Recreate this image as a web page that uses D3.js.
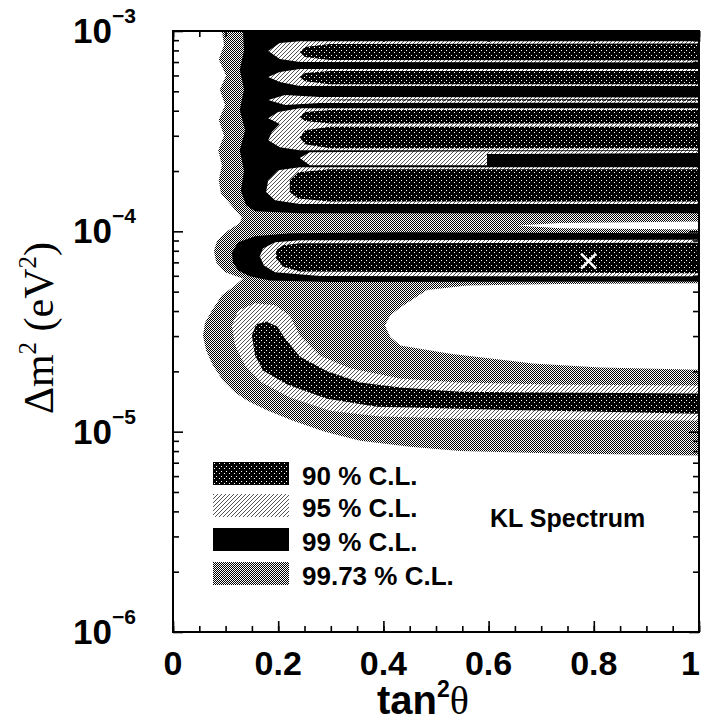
<!DOCTYPE html>
<html>
<head>
<meta charset="utf-8">
<script src="https://cdn.jsdelivr.net/npm/d3@7"></script>
<style>
	body { margin: 0; background: #fff; overflow: hidden; }
	svg { display: block; }
	.ticks line { stroke: #000; stroke-width: 1.6; }
	.ticks path { display: none; }
</style>
</head>
<body>
<div id="chart"></div>
<script>

var xTickValues = [0, 0.2, 0.4, 0.6, 0.8, 1];
var xTickLabels = ["0", "0.2", "0.4", "0.6", "0.8", "1"];
var yTickValues = [1e-6, 1e-5, 1e-4, 1e-3];
var yTickExponents = ["\u22126", "\u22125", "\u22124", "\u22123"];
var legendLabels = ["90 % C.L.", "95 % C.L.", "99 % C.L.", "99.73 % C.L."];
var legendFills = ["p90", "p95", "p99", "p9973"];
var bestFit = [0.79, 7.1e-5];

// allowed regions, rings of [tan^2 theta, dm^2 (eV^2)]
var cl9973 = [
	[[0.093,1.0e-3],[0.097,8.51e-4],[0.087,7.2e-4],[0.101,6.0e-4],[0.089,5.1e-4],[0.099,4.27e-4],[0.087,3.6e-4],[0.097,3.0e-4],
	 [0.086,2.54e-4],[0.093,2.14e-4],[0.087,1.80e-4],[0.091,1.55e-4],[0.114,1.32e-4],[0.131,1.17e-4],[0.127,1.10e-4],[0.105,1.01e-4],
	 [0.084,9.0e-5],[0.078,8.0e-5],[0.082,7.0e-5],[0.099,6.24e-5],[0.133,5.82e-5],[0.118,5.37e-5],[0.093,4.79e-5],[0.074,4.03e-5],
	 [0.061,3.51e-5],[0.057,3.02e-5],[0.063,2.54e-5],[0.076,2.14e-5],[0.095,1.80e-5],[0.118,1.57e-5],[0.141,1.43e-5],[0.181,1.27e-5],
	 [0.228,1.135e-5],[0.289,1.0e-5],[0.356,9.0e-6],[0.451,8.4e-6],[0.546,8.0e-6],[0.717,7.8e-6],[1.0,7.6e-6],[1.0,1.0e-3]],
	[[1.0,5.50e-5],[0.736,5.46e-5],[0.559,5.37e-5],[0.483,5.09e-5],[0.432,4.17e-5],[0.413,3.80e-5],[0.403,3.39e-5],[0.413,2.98e-5],
	 [0.432,2.69e-5],[0.527,2.45e-5],[0.684,2.19e-5],[0.812,2.09e-5],[1.0,2.04e-5]],
	[[0.654,1.07e-4],[0.736,1.10e-4],[1.0,1.12e-4],[1.0,1.02e-4],[0.736,1.035e-4]]
];

var cl99 = [
	[[0.133,1.0e-3],[1.0,1.0e-3],[1.0,1.23e-4],[0.241,1.23e-4],[0.156,1.26e-4],[0.139,1.35e-4],[0.129,1.6e-4],[0.135,2.0e-4],
	 [0.127,2.54e-4],[0.137,3.2e-4],[0.127,4.03e-4],[0.135,5.1e-4],[0.127,6.4e-4],[0.135,8.0e-4]],
	[[1.0,9.77e-5],[0.432,9.89e-5],[0.222,9.77e-5],[0.156,9.44e-5],[0.124,8.81e-5],[0.112,7.85e-5],[0.114,7.0e-5],[0.124,6.38e-5],
	 [0.146,5.96e-5],[0.184,5.69e-5],[0.298,5.59e-5],[1.0,5.62e-5]]
];

var cl95 = [
	[[1.0,8.9e-4],[0.241,8.9e-4],[0.203,8.7e-4],[0.181,7.94e-4],[0.203,7.24e-4],[0.241,7.0e-4],[1.0,6.96e-4]],
	[[1.0,6.46e-4],[0.241,6.46e-4],[0.203,6.24e-4],[0.181,5.89e-4],[0.203,5.56e-4],[0.241,5.31e-4],[1.0,5.31e-4]],
	[[1.0,4.65e-4],[0.279,4.68e-4],[0.213,4.79e-4],[0.181,4.52e-4],[0.213,4.27e-4],[0.279,4.37e-4],[1.0,4.39e-4]],
	[[1.0,4.12e-4],[0.241,4.12e-4],[0.2,3.94e-4],[0.181,3.67e-4],[0.203,3.43e-4],[0.188,3.13e-4],[0.181,2.85e-4],[0.203,2.63e-4],
	 [0.241,2.54e-4],[1.0,2.54e-4]],
	[[0.241,2.32e-4],[0.26,2.48e-4],[0.597,2.51e-4],[1.0,2.52e-4],[1.0,2.46e-4],[0.597,2.43e-4],[0.597,2.14e-4],[0.26,2.14e-4]],
	[[1.0,2.09e-4],[0.241,2.09e-4],[0.2,2.02e-4],[0.181,1.8e-4],[0.177,1.57e-4],[0.194,1.43e-4],[0.241,1.37e-4],[1.0,1.37e-4]],
	[[1.0,9.07e-5],[0.241,9.02e-5],[0.194,8.81e-5],[0.171,8.22e-5],[0.165,7.5e-5],[0.173,6.76e-5],[0.194,6.24e-5],[0.279,5.99e-5],
	 [1.0,5.96e-5]],
	[[1.0,1.70e-5],[0.717,1.72e-5],[0.546,1.76e-5],[0.432,1.84e-5],[0.336,2.07e-5],[0.279,2.40e-5],[0.241,3.02e-5],[0.222,3.80e-5],
	 [0.194,4.27e-5],[0.156,4.37e-5],[0.124,4.03e-5],[0.112,3.39e-5],[0.118,2.69e-5],[0.137,2.14e-5],[0.169,1.76e-5],[0.222,1.48e-5],
	 [0.298,1.27e-5],[0.394,1.19e-5],[0.546,1.16e-5],[0.717,1.15e-5],[1.0,1.135e-5]]
];

var cl90 = [
	[[1.0,8.66e-4],[0.298,8.6e-4],[0.251,8.32e-4],[0.241,7.85e-4],[0.251,7.41e-4],[0.298,7.16e-4],[1.0,7.12e-4]],
	[[1.0,6.31e-4],[0.298,6.31e-4],[0.251,6.17e-4],[0.241,5.89e-4],[0.251,5.62e-4],[0.298,5.43e-4],[1.0,5.43e-4]],
	[[1.0,4.57e-4],[0.317,4.55e-4],[0.279,4.52e-4],[0.317,4.5e-4],[1.0,4.48e-4]],
	[[1.0,4.03e-4],[0.298,4.03e-4],[0.251,3.94e-4],[0.241,3.72e-4],[0.251,3.55e-4],[0.298,3.45e-4],[1.0,3.45e-4]],
	[[1.0,3.33e-4],[0.298,3.33e-4],[0.251,3.2e-4],[0.241,2.95e-4],[0.251,2.72e-4],[0.298,2.6e-4],[1.0,2.6e-4]],
	[[1.0,2.04e-4],[0.298,2.04e-4],[0.238,1.97e-4],[0.222,1.8e-4],[0.222,1.57e-4],[0.238,1.46e-4],[0.298,1.41e-4],[1.0,1.41e-4]],
	[[1.0,8.76e-5],[0.241,8.71e-5],[0.209,8.51e-5],[0.196,8.04e-5],[0.196,7.33e-5],[0.209,6.68e-5],[0.241,6.31e-5],[1.0,6.17e-5]],
	[[1.0,1.55e-5],[0.717,1.57e-5],[0.546,1.58e-5],[0.432,1.66e-5],[0.356,1.76e-5],[0.293,2.0e-5],[0.241,2.37e-5],[0.213,2.92e-5],
	 [0.198,3.35e-5],[0.177,3.55e-5],[0.158,3.43e-5],[0.150,3.02e-5],[0.156,2.40e-5],[0.171,2.02e-5],[0.217,1.72e-5],[0.293,1.46e-5],
	 [0.388,1.33e-5],[0.546,1.30e-5],[0.717,1.27e-5],[1.0,1.23e-5]]
];


var W = 702, H = 726,
	margins = {top: 31, right: 3, bottom: 94, left: 173},
	width = W - margins.left - margins.right,
	height = H - margins.top - margins.bottom;

var sans = "'Liberation Sans', Arial, Helvetica, sans-serif",
	serif = "'Liberation Serif', 'Times New Roman', serif";

var x = d3.scaleLinear().domain([0, 1]).range([0, width]);
var y = d3.scaleLog().domain([1e-6, 1e-3]).range([height, 0]);

var svg = d3.select("#chart")
	.append("svg")
		.attr("width", W)
		.attr("height", H);

var defs = svg.append("defs");

function addPattern(id, size, bg, fg, pixels) {
	var p = defs.append("pattern")
		.attr("id", id)
		.attr("width", size).attr("height", size)
		.attr("patternUnits", "userSpaceOnUse");
	p.append("rect").attr("width", size).attr("height", size).attr("fill", bg);
	pixels.forEach(function(px) {
		p.append("rect").attr("x", px[0]).attr("y", px[1]).attr("width", 1).attr("height", 1)
			.attr("fill", fg).attr("shape-rendering", "crispEdges");
	});
}

addPattern("p90", 5, "#000", "#fff", [[1, 1], [3, 4]]);
addPattern("p95", 4, "#fff", "#555", [[0, 0], [2, 2], [3, 1], [1, 3]]);
addPattern("p99", 2, "#000", "#000", []);
addPattern("p9973", 2, "#fff", "#000", [[0, 0], [1, 1]]);

defs.append("clipPath").attr("id", "plotclip")
	.append("rect").attr("width", width).attr("height", height);

var g = svg.append("g")
	.attr("transform", "translate(" + margins.left + "," + margins.top + ")");

var line = d3.line()
	.x(function(d) { return x(d[0]); })
	.y(function(d) { return y(d[1]); });

function ringsPath(rings) {
	return rings.map(function(r) { return line(r) + "Z"; }).join("");
}

var plot = g.append("g").attr("clip-path", "url(#plotclip)");

plot.append("path").attr("d", ringsPath(cl9973)).attr("fill", "url(#p9973)").attr("fill-rule", "evenodd");

[[cl99, "p99"], [cl95, "p95"], [cl90, "p90"]].forEach(function(level) {
	plot.append("g")
		.selectAll("path")
		.data(level[0])
		.enter().append("path")
			.attr("d", function(d) { return line(d) + "Z"; })
			.attr("fill", "url(#" + level[1] + ")");
});

// best fit marker
var bx = x(bestFit[0]), by = y(bestFit[1]), s = 7.5;
plot.append("path")
	.attr("d", "M" + (bx - s) + "," + (by - s) + "L" + (bx + s) + "," + (by + s) +
		"M" + (bx - s) + "," + (by + s) + "L" + (bx + s) + "," + (by - s))
	.attr("stroke", "#fff").attr("stroke-width", 2.5);


// ticks on all four sides, pointing inward
var yMinor = [];
[1e-6, 1e-5, 1e-4].forEach(function(dec) {
	for(var k = 2; k <= 9; k++) { yMinor.push(k * dec); }
});
var xMinor = d3.range(0, 1.0001, 0.05);

g.append("g").attr("class", "ticks").call(d3.axisLeft(y).tickValues(yTickValues).tickSize(-10).tickFormat(""));
g.append("g").attr("class", "ticks").call(d3.axisLeft(y).tickValues(yMinor).tickSize(-6).tickFormat(""));
g.append("g").attr("class", "ticks").attr("transform", "translate(" + width + ",0)")
	.call(d3.axisRight(y).tickValues(yTickValues).tickSize(-10).tickFormat(""));
g.append("g").attr("class", "ticks").attr("transform", "translate(" + width + ",0)")
	.call(d3.axisRight(y).tickValues(yMinor).tickSize(-6).tickFormat(""));
g.append("g").attr("class", "ticks").attr("transform", "translate(0," + height + ")")
	.call(d3.axisBottom(x).tickValues(xTickValues).tickSize(-11).tickFormat(""));
g.append("g").attr("class", "ticks").attr("transform", "translate(0," + height + ")")
	.call(d3.axisBottom(x).tickValues(xMinor).tickSize(-6).tickFormat(""));
g.append("g").attr("class", "ticks")
	.call(d3.axisTop(x).tickValues(xTickValues).tickSize(-11).tickFormat(""));
g.append("g").attr("class", "ticks")
	.call(d3.axisTop(x).tickValues(xMinor).tickSize(-6).tickFormat(""));

g.append("rect")
	.attr("width", width).attr("height", height)
	.attr("fill", "none").attr("stroke", "#000").attr("stroke-width", 2);


// tick labels
var ylab = g.append("g").selectAll("text")
	.data(yTickValues)
	.enter().append("text")
		.attr("x", -37)
		.attr("y", function(d) { return y(d) + 12; })
		.attr("text-anchor", "end")
		.attr("font-family", sans).attr("font-weight", "bold");
ylab.append("tspan").attr("font-size", 35).text("10");
ylab.append("tspan").attr("font-size", 21).attr("dy", -20)
	.text(function(d, i) { return yTickExponents[i]; });

// the last label sits against the right edge of the page
g.append("g").selectAll("text")
	.data(xTickValues)
	.enter().append("text")
		.attr("x", function(d, i) { return i == xTickValues.length - 1 ? width + 1 : x(d); })
		.attr("y", height + 43)
		.attr("text-anchor", function(d, i) { return i == xTickValues.length - 1 ? "end" : "middle"; })
		.attr("font-family", sans).attr("font-weight", "bold").attr("font-size", 34)
		.text(function(d, i) { return xTickLabels[i]; });


// axis titles
var xt = svg.append("text")
	.attr("x", 423).attr("y", 714)
	.attr("text-anchor", "middle")
	.attr("font-size", 40);
xt.append("tspan").attr("font-family", sans).attr("font-weight", "bold").text("tan");
xt.append("tspan").attr("font-family", sans).attr("font-weight", "bold").attr("font-size", 23).attr("dy", -17).text("2");
xt.append("tspan").attr("font-family", serif).attr("dy", 17).text("\u03b8");

var yt = svg.append("text")
	.attr("transform", "translate(53,328) rotate(-90)")
	.attr("text-anchor", "middle")
	.attr("font-family", serif).attr("font-size", 42);
yt.append("tspan").text("\u0394m");
yt.append("tspan").attr("font-size", 25).attr("dy", -17).text("2");
yt.append("tspan").attr("dy", 17).text(" (eV");
yt.append("tspan").attr("font-size", 25).attr("dy", -17).text("2");
yt.append("tspan").attr("dy", 17).text(")");


// legend
var legend = svg.append("g").selectAll("g")
	.data(legendLabels)
	.enter().append("g")
		.attr("transform", function(d, i) { return "translate(213," + [462, 494, 528, 562][i] + ")"; });

legend.append("rect")
	.attr("width", 76).attr("height", 23)
	.attr("fill", function(d, i) { return "url(#" + legendFills[i] + ")"; });

legend.append("text")
	.attr("x", 89).attr("y", 23)
	.attr("font-family", sans).attr("font-weight", "bold").attr("font-size", 26)
	.text(function(d) { return d; });

svg.append("text")
	.attr("x", 490).attr("y", 527)
	.attr("font-family", sans).attr("font-weight", "bold").attr("font-size", 25)
	.text("KL Spectrum");

</script>
</body>
</html>
